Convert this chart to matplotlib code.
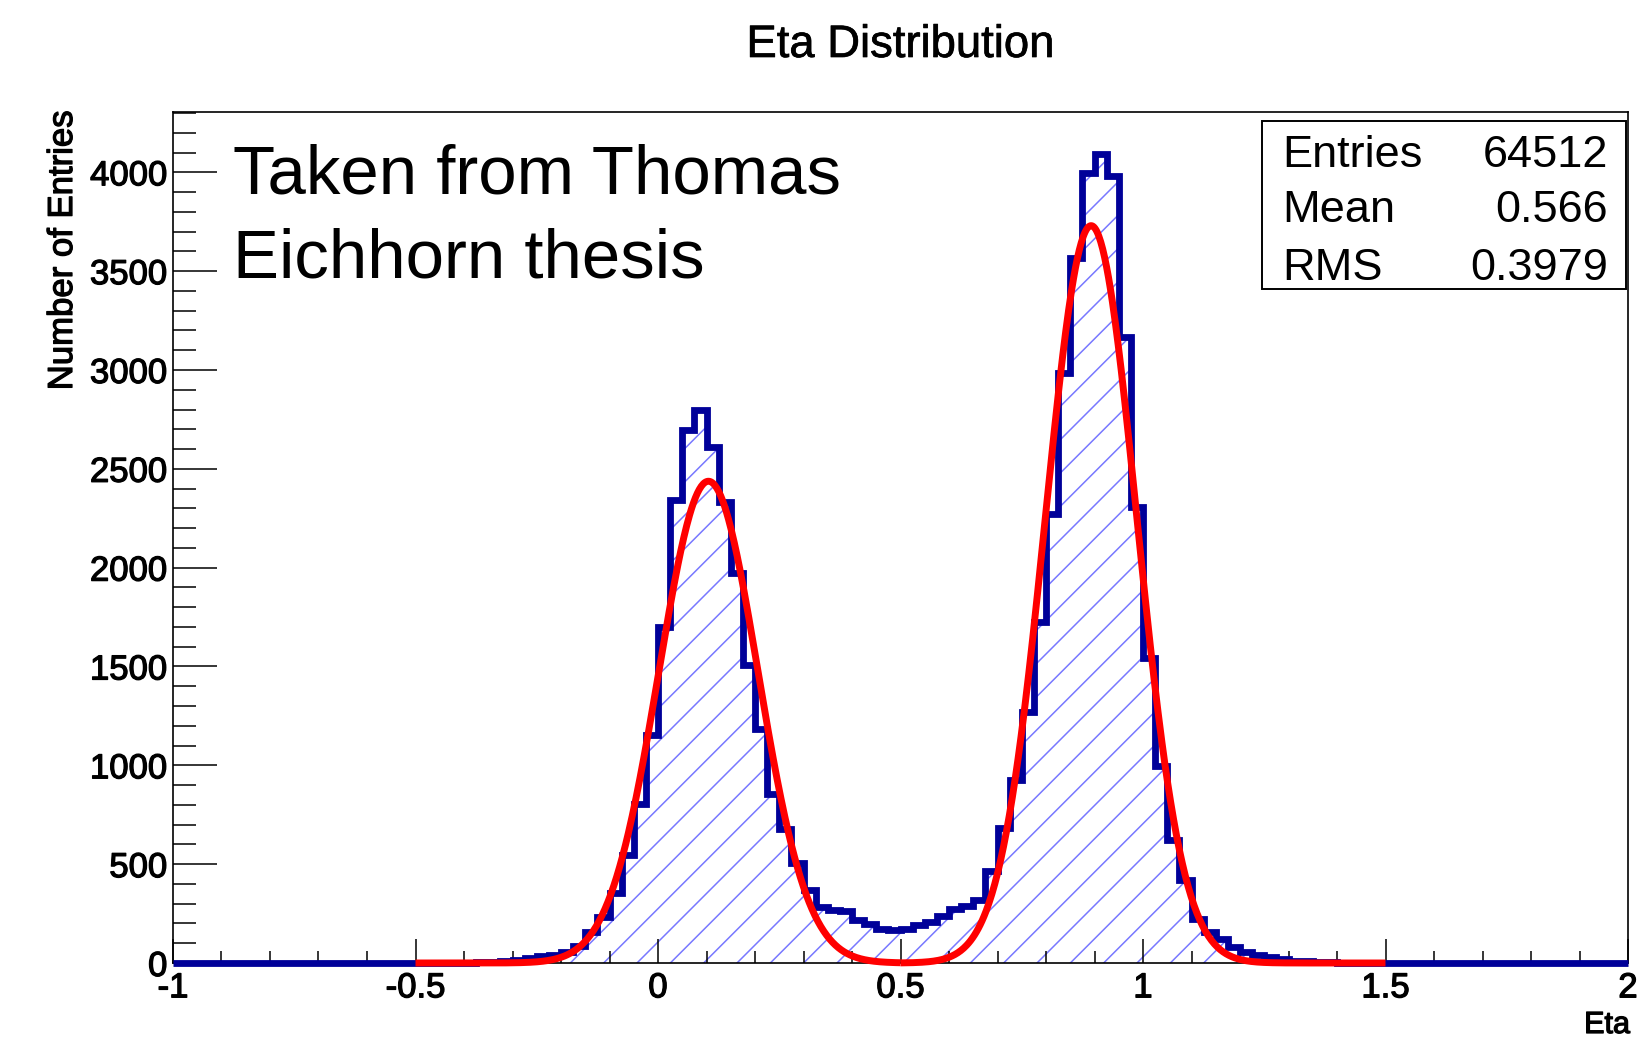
import numpy as np
import matplotlib
matplotlib.use('Agg')
import matplotlib.pyplot as plt
import matplotlib.patheffects as pe
from matplotlib.ticker import MultipleLocator, FuncFormatter
from matplotlib.patches import Rectangle

plt.rcParams['font.family'] = ['Liberation Sans', 'DejaVu Sans']
plt.rcParams['hatch.linewidth'] = 1.1

# ---------------- data ----------------
eta_range = [-1.0, 2.0]
n_bins = 120  # bin width 0.025

# bin contents, from eta=-1.0 to eta=2.0 in 0.025 steps
counts = [
    0, 0, 0, 0, 0, 0, 0, 0, 0, 0,            # -1.000 .. -0.775
    0, 0, 0, 0, 0, 0, 0, 0, 0, 0,            # -0.750 .. -0.525
    0, 0, 0, 0, 0,                            # -0.500 .. -0.400
    3, 5, 10, 15, 25, 35, 42, 55, 87, 155,    # -0.375 .. -0.150
    232, 355, 545, 805, 1155,                 # -0.125 .. -0.025
    1700, 2340, 2695, 2800, 2608, 2330, 1971, 1505, 1184, 854,   # 0.000 .. 0.225
    680, 505, 369, 285, 268, 262, 218, 195, 170, 168,            # 0.250 .. 0.475
    172, 190, 205, 240, 272, 290, 318, 465, 685, 926,            # 0.500 .. 0.725
    1270, 1723, 2273, 2987, 3564, 3998, 4092, 3982, 3166, 2306,  # 0.750 .. 0.975
    1544, 995, 624, 418, 225, 157, 120, 80, 55, 40,              # 1.000 .. 1.225
    28, 18, 12, 8, 5, 3,                                         # 1.250 .. 1.375
    0, 0, 0, 0, 0, 0, 0, 0, 0, 0,            # 1.400 .. 1.625
    0, 0, 0, 0, 0, 0, 0, 0, 0, 0,            # 1.650 .. 1.875
    0, 0, 0, 0,                               # 1.900 .. 1.975
]

# gaussian fits: amplitude, mean, sigma, range
fit_amp = [2437, 3730]
fit_mean = [0.104, 0.893]
fit_sigma = [0.102, 0.094]
fit_lo = [-0.5, 0.5]
fit_hi = [0.5, 1.5]

stats_names = ['Entries', 'Mean', 'RMS']
stats_values = ['64512', '0.566', '0.3979']

title = 'Eta Distribution'
xlabel = 'Eta'
ylabel = 'Number of Entries'
note_lines = ['Taken from Thomas', 'Eichhorn thesis']

# ---------------- figure ----------------
W, H = 1645, 1037
fig = plt.figure(figsize=(W / 100, H / 100), dpi=100)
ax_l, ax_r, ax_t, ax_b = 173, 1628, 112, 963
ax = fig.add_axes([ax_l / W, (H - ax_b) / H, (ax_r - ax_l) / W, (ax_b - ax_t) / H])

edges = np.linspace(eta_range[0], eta_range[1], n_bins + 1)
hist_blue = '#000099'
hatch_col = '#7878ff'

ax.stairs(counts, edges, fill=True, hatch='/', facecolor='none',
          edgecolor=hatch_col, linewidth=0, zorder=1)
ax.stairs(counts, edges, color=hist_blue, linewidth=4.9, zorder=3, clip_on=False)

for a, m, s, lo, hi in zip(fit_amp, fit_mean, fit_sigma, fit_lo, fit_hi):
    xx = np.linspace(lo, hi, 500)
    yy = a * np.exp(-0.5 * ((xx - m) / s) ** 2)
    ax.plot(xx, yy, color='#ff0000', linewidth=5.0, zorder=4, clip_on=False,
            solid_capstyle='butt')

ax.set_xlim(eta_range)
ax.set_ylim(0, 4305)

ax.xaxis.set_major_locator(MultipleLocator(0.5))
ax.xaxis.set_minor_locator(MultipleLocator(0.1))
ax.yaxis.set_major_locator(MultipleLocator(500))
ax.yaxis.set_minor_locator(MultipleLocator(100))
ax.xaxis.set_major_formatter(FuncFormatter(lambda v, p: '%g' % v))
ax.yaxis.set_major_formatter(FuncFormatter(lambda v, p: '%d' % v))

ax.tick_params(axis='x', which='major', direction='in', length=17.3, width=1.1,
               top=False, labelsize=25, pad=6)
ax.tick_params(axis='x', which='minor', direction='in', length=8.6, width=1.1, top=False)
ax.tick_params(axis='y', which='major', direction='in', length=32, width=1.1,
               right=False, labelsize=25, pad=4)
ax.tick_params(axis='y', which='minor', direction='in', length=16.5, width=1.1, right=False)
for sp in ax.spines.values():
    sp.set_linewidth(1.2)

heavy = [pe.withStroke(linewidth=0.9, foreground='black')]
for lab in ax.get_xticklabels() + ax.get_yticklabels():
    lab.set_path_effects(heavy)

# texts
fig.text(900 / W, 1 - 57 / H, title, ha='center', va='baseline', fontsize=32.7,
         path_effects=[pe.withStroke(linewidth=0.5, foreground='black')])
fig.text(1630 / W, 1 - 1033 / H, xlabel, ha='right', va='baseline', fontsize=22,
         path_effects=heavy)
fig.text(79 / W, 1 - 110 / H, ylabel, rotation=90, ha='right', va='top', fontsize=25,
         path_effects=heavy)

note_baselines = [194, 278]
for line, yb in zip(note_lines, note_baselines):
    fig.text(233 / W, 1 - yb / H, line, ha='left', va='baseline', fontsize=49.7)

# stats box
bx_l, bx_r, bx_t, bx_b = 1262, 1626, 121, 289
fig.patches.append(Rectangle((bx_l / W, 1 - bx_b / H), (bx_r - bx_l) / W, (bx_b - bx_t) / H,
                             transform=fig.transFigure, facecolor='white',
                             edgecolor='black', linewidth=1.4, zorder=5))
stat_baselines = [167, 222, 280]
for name, val, yb in zip(stats_names, stats_values, stat_baselines):
    fig.text(1282 / W, 1 - yb / H, name, ha='left', va='baseline', fontsize=32.5, zorder=6)
    fig.text(1608 / W, 1 - yb / H, val, ha='right', va='baseline', fontsize=32.5, zorder=6)

fig.savefig('out.png', dpi=100)
